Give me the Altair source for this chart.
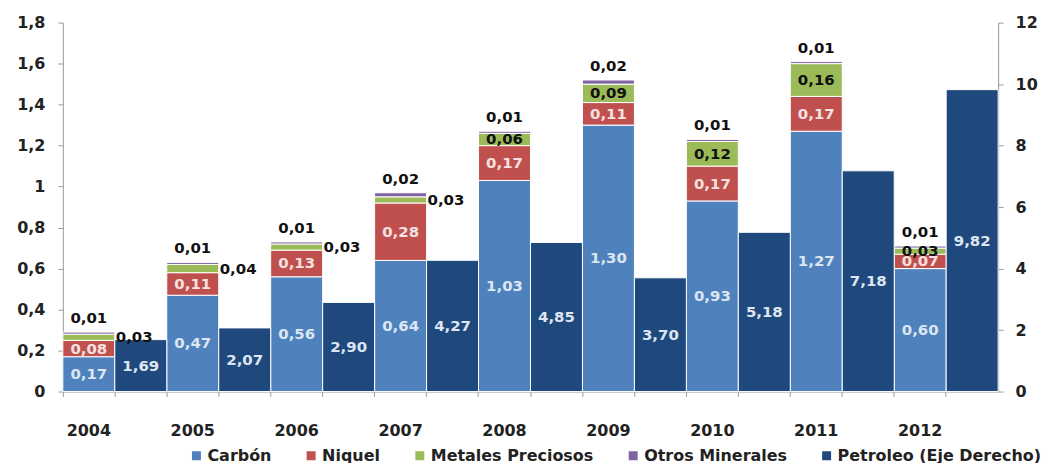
import altair as alt
import pandas as pd

years = ["2004", "2005", "2006", "2007", "2008", "2009", "2010", "2011", "2012"]
carbon = [0.17, 0.47, 0.56, 0.64, 1.03, 1.30, 0.93, 1.27, 0.60]
niquel = [0.08, 0.11, 0.13, 0.28, 0.17, 0.11, 0.17, 0.17, 0.07]
metales = [0.03, 0.04, 0.03, 0.03, 0.06, 0.09, 0.12, 0.16, 0.03]
otros = [0.01, 0.01, 0.01, 0.02, 0.01, 0.02, 0.01, 0.01, 0.01]
petroleo = [1.69, 2.07, 2.90, 4.27, 4.85, 3.70, 5.18, 7.18, 9.82]

series_names = ["Carbón", "Niquel", "Metales Preciosos", "Otros Minerales", "Petroleo (Eje Derecho)"]
colors = ["#4F81BD", "#C0504D", "#9BBB59", "#8064A2", "#1F497D"]
left_ticks = [0, 0.2, 0.4, 0.6, 0.8, 1.0, 1.2, 1.4, 1.6, 1.8]
right_ticks = [0, 2, 4, 6, 8, 10, 12]

FONT = "DejaVu Sans"


def fmt(v):
    return f"{v:.2f}".replace(".", ",")


slots = []
for y in years:
    slots += [y + "a", y + "b"]

rows = []
for i, y in enumerate(years):
    base = 0.0
    for name, vals in zip(series_names[:4], [carbon, niquel, metales, otros]):
        v = vals[i]
        rows.append(dict(slot=y + "a", series=name, start=round(base, 4), end=round(base + v, 4),
                         mid=round(base + v / 2, 4), label=fmt(v), outside=int(i < 4)))
        base += v
stack = pd.DataFrame(rows)

oil = pd.DataFrame(dict(slot=[y + "b" for y in years],
                        series=series_names[4],
                        value=petroleo,
                        zero=[0.0] * len(years),
                        mid=[v / 2 for v in petroleo],
                        label=[fmt(v) for v in petroleo]))

x_enc = alt.X(
    "slot:N",
    scale=alt.Scale(domain=slots, paddingInner=0, paddingOuter=0),
    axis=alt.Axis(title=None,
                  labelExpr="indexof(datum.value,'a') > 0 ? substring(datum.value,0,4) : ''",
                  bandPosition=0,
                  labelAngle=0, labelPadding=26, tickSize=5,
                  domainColor="#9a9a9a", tickColor="#9a9a9a", labelFontSize=16,
                  labelFont=FONT, labelFontWeight="bold", labelColor="#222222"),
)

left_axis = alt.Axis(title=None, values=left_ticks, tickSize=5, labelPadding=13,
                     format=".1~f",
                     labelExpr="replace(datum.label, '.', ',')",
                     domainColor="#9a9a9a", tickColor="#9a9a9a", labelFontSize=16,
                     labelFont=FONT, labelFontWeight="bold", labelColor="#222222", grid=False)
right_axis = alt.Axis(title=None, orient="right", values=right_ticks, tickSize=5, labelPadding=12,
                      domainColor="#9a9a9a", tickColor="#9a9a9a", labelFontSize=16,
                      labelFont=FONT, labelFontWeight="bold", labelColor="#222222", grid=False)


def yl(field, axis=None):
    return alt.Y(field, scale=alt.Scale(domain=[0, 1.8]), axis=axis)


def yr(field, axis=None):
    return alt.Y(field, scale=alt.Scale(domain=[0, 12]), axis=axis)


legend = alt.Legend(title=None, orient="none", legendX=126, legendY=426, direction="horizontal",
                    symbolType="square", symbolSize=110,
                    labelFontSize=16, labelFont=FONT, labelFontWeight="bold", labelColor="#222222",
                    columnPadding=30, labelOffset=3, labelLimit=400)
color_enc = alt.Color("series:N", scale=alt.Scale(domain=series_names, range=colors), legend=legend)

base_stack = alt.Chart(stack)
bars = base_stack.mark_bar(stroke="white", strokeWidth=1).encode(
    x=x_enc, y=yl("start:Q", left_axis), y2="end:Q", color=color_enc)

txt = dict(font=FONT, fontSize=15, fontWeight="bold", baseline="middle")

t_carbon = base_stack.transform_filter(alt.datum.series == "Carbón").mark_text(
    color="#dce6f2", **txt).encode(x=x_enc, y=yl("mid:Q"), text="label:N")
t_niquel = base_stack.transform_filter(alt.datum.series == "Niquel").mark_text(
    color="#f5e1e0", **txt).encode(x=x_enc, y=yl("mid:Q"), text="label:N")
t_met_in = base_stack.transform_filter(
    (alt.datum.series == "Metales Preciosos") & (alt.datum.outside == 0)).mark_text(
    color="#111111", **txt).encode(x=x_enc, y=yl("mid:Q"), text="label:N")
t_met_out = base_stack.transform_filter(
    (alt.datum.series == "Metales Preciosos") & (alt.datum.outside == 1)).mark_text(
    color="#111111", align="left", dx=27, **txt).encode(x=x_enc, y=yl("mid:Q"), text="label:N")
t_otros = base_stack.transform_filter(alt.datum.series == "Otros Minerales").mark_text(
    color="#111111", dy=-14, **txt).encode(x=x_enc, y=yl("end:Q"), text="label:N")

base_oil = alt.Chart(oil)
oil_bars = base_oil.mark_bar(stroke="white", strokeWidth=1).encode(
    x=x_enc, y=yr("zero:Q", right_axis), y2="value:Q", color=color_enc)
t_oil = base_oil.mark_text(color="#dce6f2", **txt).encode(x=x_enc, y=yr("mid:Q"), text="label:N")

chart = alt.layer(bars, oil_bars, t_carbon, t_niquel, t_met_in, t_met_out, t_otros, t_oil).resolve_scale(
    y="independent").properties(
    width=938, height=370,
    padding={"left": 8, "top": 6, "right": 5, "bottom": 5},
).configure_view(stroke=None)

chart.save("out.html", embed_options={"renderer": "svg", "actions": False})
